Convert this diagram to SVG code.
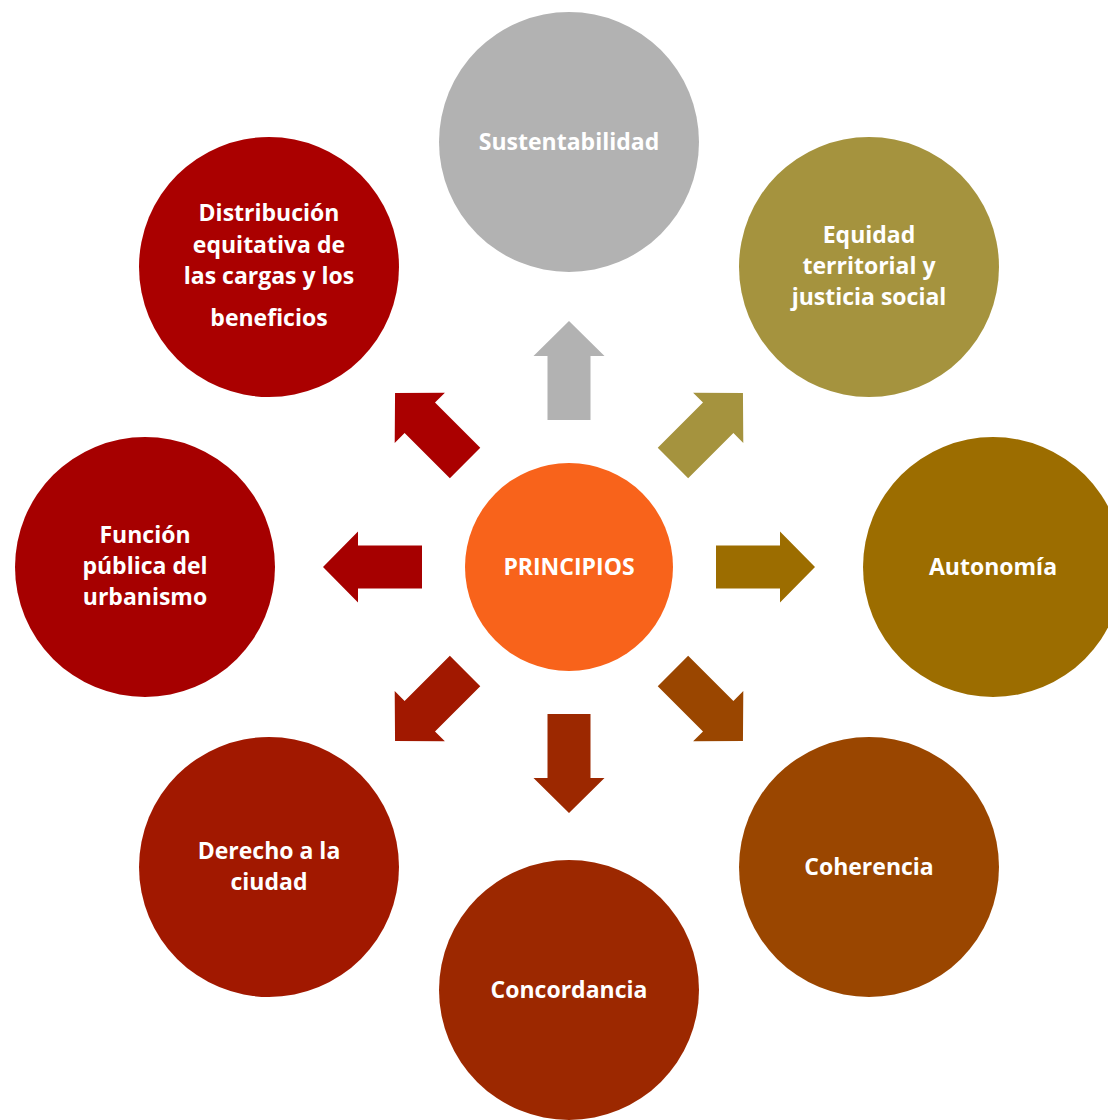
<svg xmlns="http://www.w3.org/2000/svg" xmlns:xlink="http://www.w3.org/1999/xlink" width="1108" height="1120" viewBox="0 0 1108 1120">
<style>
text{font-family:"Open Sans","Liberation Sans",sans-serif;font-weight:bold;font-size:23px;fill:#ffffff;text-anchor:middle}
</style>
<defs>
<path id="arr" d="M716,545.5 H780 V531.5 L815,567 L780,602.5 V588.5 H716 Z"/>
</defs>
<rect width="1108" height="1120" fill="#ffffff"/>
<g id="connectors">
<use xlink:href="#arr" href="#arr" fill="#B2B2B2" transform="rotate(-90 569 567)"/>
<use xlink:href="#arr" href="#arr" fill="#A5933E" transform="rotate(-45 569 567)"/>
<use xlink:href="#arr" href="#arr" fill="#9C6D00"/>
<use xlink:href="#arr" href="#arr" fill="#9A4600" transform="rotate(45 569 567)"/>
<use xlink:href="#arr" href="#arr" fill="#9C2800" transform="rotate(90 569 567)"/>
<use xlink:href="#arr" href="#arr" fill="#A11800" transform="rotate(135 569 567)"/>
<use xlink:href="#arr" href="#arr" fill="#A60000" transform="rotate(180 569 567)"/>
<use xlink:href="#arr" href="#arr" fill="#AA0000" transform="rotate(-135 569 567)"/>
</g>
<g id="center">
<circle cx="569" cy="567" r="104" fill="#F8631B"/>
<text x="569" y="575">PRINCIPIOS</text>
</g>
<g id="sustentabilidad">
<circle cx="569" cy="142" r="130" fill="#B2B2B2"/>
<text x="569" y="150">Sustentabilidad</text>
</g>
<g id="equidad">
<circle cx="869" cy="267" r="130" fill="#A5933E"/>
<text x="869" y="243">Equidad</text>
<text x="869" y="274">territorial y</text>
<text x="869" y="305">justicia social</text>
</g>
<g id="autonomia">
<circle cx="993" cy="567" r="130" fill="#9C6D00"/>
<text x="993" y="575">Autonomía</text>
</g>
<g id="coherencia">
<circle cx="869" cy="867" r="130" fill="#9A4600"/>
<text x="869" y="875">Coherencia</text>
</g>
<g id="concordancia">
<circle cx="569" cy="990" r="130" fill="#9C2800"/>
<text x="569" y="998">Concordancia</text>
</g>
<g id="derecho">
<circle cx="269" cy="867" r="130" fill="#A11800"/>
<text x="269" y="859">Derecho a la</text>
<text x="269" y="890">ciudad</text>
</g>
<g id="funcion">
<circle cx="145" cy="567" r="130" fill="#A60000"/>
<text x="145" y="543">Función</text>
<text x="145" y="574">pública del</text>
<text x="145" y="605">urbanismo</text>
</g>
<g id="distribucion">
<circle cx="269" cy="267" r="130" fill="#AA0000"/>
<text x="269" y="221">Distribución</text>
<text x="269" y="253">equitativa de</text>
<text x="269" y="284">las cargas y los</text>
<text x="269" y="326">beneficios</text>
</g>
</svg>
